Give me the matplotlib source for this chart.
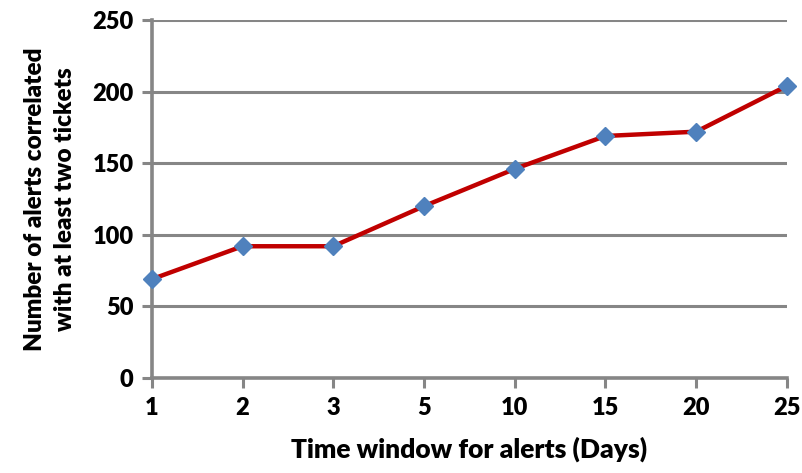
import matplotlib
matplotlib.use("Agg")
import matplotlib.pyplot as plt

# Data
window_labels = ["1", "2", "3", "5", "10", "15", "20", "25"]
alert_counts = [69, 92, 92, 120, 146, 169, 172, 204]
y_ticks = [0, 50, 100, 150, 200, 250]

plt.rcParams["font.family"] = ["Lato", "DejaVu Sans"]
plt.rcParams["font.weight"] = "bold"

fig = plt.figure(figsize=(8.03, 4.73), dpi=100)
ax = fig.add_axes([0.189, 0.2008, 0.791, 0.757])

x = list(range(len(window_labels)))
ax.plot(x, alert_counts, color="#C00000", linewidth=3.2, zorder=3,
        marker="D", markersize=9.5, markerfacecolor="#4F81BD",
        markeredgecolor="#4F81BD", clip_on=False)

ax.set_xlim(0, len(window_labels) - 1)
ax.set_ylim(0, 250)
ax.set_yticks(y_ticks)
ax.set_xticks(x)
ax.set_xticklabels(window_labels)

grid_color = "#868686"
ax.yaxis.grid(True, color=grid_color, linewidth=2.2)
ax.set_axisbelow(True)
for side in ["top", "right"]:
    ax.spines[side].set_visible(False)
for side in ["left", "bottom"]:
    ax.spines[side].set_color(grid_color)
    ax.spines[side].set_linewidth(2.6)

ax.tick_params(axis="both", colors=grid_color, width=2.2, length=7,
               labelcolor="black", labelsize=17)
ax.tick_params(axis="x", pad=7)
ax.tick_params(axis="y", pad=6)
for lbl in ax.get_xticklabels() + ax.get_yticklabels():
    lbl.set_fontweight("heavy")

ax.set_xlabel("Time window for alerts (Days)", fontsize=19, fontweight="heavy",
              labelpad=12)
ax.set_ylabel("Number of alerts correlated\nwith at least two tickets",
              fontsize=17.5, fontweight="heavy", labelpad=12, linespacing=1.45)

fig.savefig("out.png", dpi=100)
